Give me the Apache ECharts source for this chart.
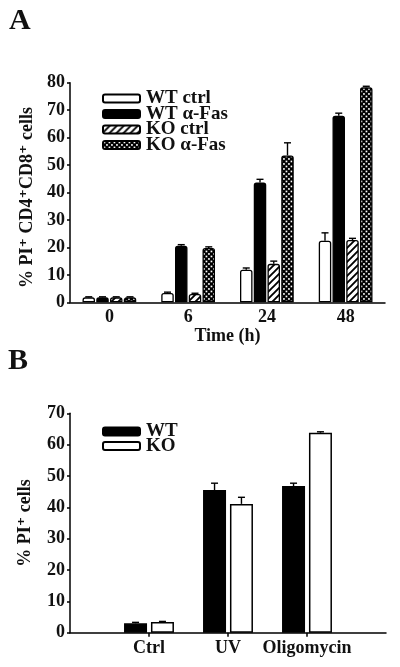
<!DOCTYPE html>
<html><head><meta charset="utf-8">
<script src="https://cdn.jsdelivr.net/npm/echarts@6/dist/echarts.min.js"></script>
<style>html,body{margin:0;padding:0;background:#fff}#c{width:400px;height:667px}</style>
</head><body><div id="c"></div>
<script>
// ---- Panel A data ----
const timeLabels = ['0', '6', '24', '48'];
const seriesNamesA = ['WT ctrl', 'WT α-Fas', 'KO ctrl', 'KO α-Fas'];
const wtCtrl = [1.8, 3.4, 11.9, 22.4];
const wtCtrlErr = [0.2, 0.3, 0.6, 2.9];
const wtFas = [1.8, 20.6, 43.6, 68.0];
const wtFasErr = [0.2, 0.4, 1.2, 0.9];
const koCtrl = [1.8, 3.0, 14.0, 22.7];
const koCtrlErr = [0.2, 0.3, 1.0, 0.6];
const koFas = [1.8, 19.8, 53.5, 78.3];
const koFasErr = [0.2, 0.4, 4.6, 0.4];

// ---- Panel B data ----
const treatLabels = ['Ctrl', 'UV', 'Oligomycin'];
const seriesNamesB = ['WT', 'KO'];
const wtB = [3.0, 45.5, 46.8];
const wtBErr = [0.3, 2.2, 0.9];
const koB = [3.4, 41.1, 63.8];
const koBErr = [0.2, 2.1, 0.3];

const FONT = '"Liberation Serif","DejaVu Serif",serif';

function hatchPattern() {
  const s = 7;
  const c = document.createElement('canvas'); c.width = s; c.height = s;
  const g = c.getContext('2d');
  g.fillStyle = '#fff'; g.fillRect(0, 0, s, s);
  g.strokeStyle = '#000'; g.lineWidth = 1.9;
  g.beginPath();
  g.moveTo(-1, s + 1); g.lineTo(s + 1, -1);
  g.moveTo(-1, 1); g.lineTo(1, -1);
  g.moveTo(s - 1, s + 1); g.lineTo(s + 1, s - 1);
  g.stroke();
  return c;
}
function dotPattern() {
  const s = 5;
  const c = document.createElement('canvas'); c.width = s; c.height = s;
  const g = c.getContext('2d');
  g.fillStyle = '#000'; g.fillRect(0, 0, s, s);
  g.fillStyle = '#fff';
  g.fillRect(0.6, 0.6, 1.7, 1.7);
  g.fillRect(3.1, 3.1, 1.7, 1.7);
  return c;
}

const fillsA = ['#fff', '#000', {image: hatchPattern(), repeat: 'repeat'}, {image: dotPattern(), repeat: 'repeat'}];
const valsA = [wtCtrl, wtFas, koCtrl, koFas];
const errsA = [wtCtrlErr, wtFasErr, koCtrlErr, koFasErr];
const BW_A = 12.5, GAP_A = 0.1;
const BW_B = 23, GAP_B = 0.17;

function errSeries(name, xi, yi, vals, errs, offset, pad) {
  const data = vals.map((v, i) => [i + pad, v, v + errs[i]]);
  return {
    type: 'custom', name: name, xAxisIndex: xi, yAxisIndex: yi, z: 5,
    data: data,
    renderItem: function (params, api) {
      const p1 = api.coord([api.value(0), api.value(1)]);
      const p2 = api.coord([api.value(0), api.value(2)]);
      const cx = p1[0] + offset;
      return {type: 'group', children: [
        {type: 'line', shape: {x1: cx, y1: p1[1], x2: cx, y2: p2[1]}, style: {stroke: '#000', lineWidth: 1.4}},
        {type: 'line', shape: {x1: cx - 3.5, y1: p2[1], x2: cx + 3.5, y2: p2[1]}, style: {stroke: '#000', lineWidth: 1.4}}
      ]};
    }
  };
}

const series = [];
seriesNamesA.forEach((n, i) => {
  series.push({
    type: 'bar', name: n, xAxisIndex: 0, yAxisIndex: 0, data: valsA[i],
    barWidth: BW_A, barGap: (GAP_A * 100) + '%', z: 3,
    itemStyle: {color: fillsA[i], borderColor: '#000', borderWidth: 1.3, borderRadius: [2, 2, 0, 0]}
  });
});
seriesNamesA.forEach((n, i) => {
  series.push(errSeries('errA' + i, 0, 0, valsA[i], errsA[i], (i - 1.5) * BW_A * (1 + GAP_A), 0));
});
const padB = arr => [null].concat(arr, [null]);
const fillsB = ['#000', '#fff'];
const valsB = [wtB, koB];
const errsB = [wtBErr, koBErr];
seriesNamesB.forEach((n, i) => {
  series.push({
    type: 'bar', name: n, xAxisIndex: 1, yAxisIndex: 1, data: padB(valsB[i]),
    barWidth: BW_B, barGap: (GAP_B * 100) + '%', z: 3,
    itemStyle: {color: fillsB[i], borderColor: '#000', borderWidth: 1.5}
  });
});
seriesNamesB.forEach((n, i) => {
  series.push(errSeries('errB' + i, 1, 1, valsB[i], errsB[i], (i - 0.5) * BW_B * (1 + GAP_B), 1));
});

const axisLabelStyle = {color: '#111', fontFamily: FONT, fontWeight: 'bold', fontSize: 18};
const nameStyle = {color: '#111', fontFamily: FONT, fontWeight: 'bold', fontSize: 18};
const lineStyle = {color: '#000', width: 1.5};
const legendText = {color: '#111', fontFamily: FONT, fontWeight: 'bold', fontSize: 19, padding: [0, 0, 0, 1]};

const option = {
  animation: false,
  backgroundColor: '#fff',
  graphic: [
    {type: 'text', left: 9, top: 6, style: {text: 'A', font: 'bold 30px ' + FONT, fill: '#111'}},
    {type: 'text', left: 8, top: 346, style: {text: 'B', font: 'bold 30px ' + FONT, fill: '#111'}}
  ],
  grid: [
    {left: 70, right: 15, top: 82.7, bottom: 364.7},
    {left: 70, right: 14, top: 413.3, bottom: 34.3}
  ],
  legend: [
    {data: seriesNamesA, orient: 'vertical', left: 97, top: 84, itemWidth: 37, itemHeight: 8, itemGap: -3.5,
     icon: 'roundRect', textStyle: legendText},
    {data: seriesNamesB, orient: 'vertical', left: 97, top: 417, itemWidth: 37, itemHeight: 8, itemGap: -4.5,
     icon: 'roundRect', textStyle: legendText}
  ],
  xAxis: [
    {type: 'category', gridIndex: 0, data: timeLabels, name: 'Time (h)', nameLocation: 'middle', nameGap: 24,
     nameTextStyle: nameStyle,
     axisLine: {lineStyle: lineStyle}, axisTick: {alignWithLabel: true, length: 4, lineStyle: lineStyle},
     axisLabel: Object.assign({margin: 6}, axisLabelStyle)},
    {type: 'category', gridIndex: 1, data: [''].concat(treatLabels, ['']), boundaryGap: false,
     axisLine: {lineStyle: lineStyle},
     axisTick: {length: 4, lineStyle: lineStyle, interval: function (idx) { return idx > 0 && idx <= treatLabels.length; }},
     axisLabel: Object.assign({margin: 7, interval: 0}, axisLabelStyle)}
  ],
  yAxis: [
    {type: 'value', gridIndex: 0, min: 0, max: 80, interval: 10,
     name: '% PI⁺ CD4⁺CD8⁺ cells', nameLocation: 'middle', nameGap: 34, nameRotate: 90,
     nameTextStyle: Object.assign({}, nameStyle, {padding: [0, 10, 0, 0]}),
     splitLine: {show: false}, axisLine: {show: true, lineStyle: lineStyle},
     axisTick: {show: true, length: 3, lineStyle: lineStyle}, axisLabel: Object.assign({margin: 5}, axisLabelStyle)},
    {type: 'value', gridIndex: 1, min: 0, max: 70, interval: 10,
     name: '% PI⁺ cells', nameLocation: 'middle', nameGap: 36, nameRotate: 90, nameTextStyle: nameStyle,
     splitLine: {show: false}, axisLine: {show: true, lineStyle: lineStyle},
     axisTick: {show: true, length: 3, lineStyle: lineStyle}, axisLabel: Object.assign({margin: 5}, axisLabelStyle)}
  ],
  series: series
};
const chart = echarts.init(document.getElementById('c'), null, {renderer: 'canvas'});
chart.setOption(option);
</script></body></html>
